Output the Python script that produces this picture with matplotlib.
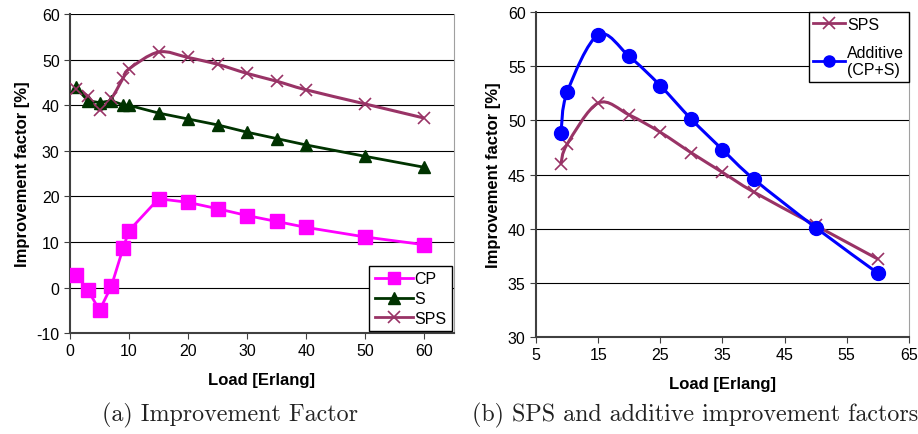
import numpy as np
import matplotlib
matplotlib.use('Agg')
import matplotlib.pyplot as plt
from matplotlib.path import Path
from matplotlib.patches import PathPatch
from matplotlib.lines import Line2D

plt.rcParams['font.family'] = ['Liberation Sans', 'DejaVu Sans']
plt.rcParams['axes.unicode_minus'] = False

# data, panel (a)
load_a = [1, 3, 5, 7, 9, 10, 15, 20, 25, 30, 35, 40, 50, 60]
cp = [2.8, -0.5, -5.0, 0.3, 8.7, 12.5, 19.5, 18.7, 17.3, 15.8, 14.5, 13.2, 11.1, 9.4]
s = [44.0, 41.0, 40.6, 41.0, 40.1, 40.0, 38.3, 37.0, 35.7, 34.1, 32.7, 31.3, 28.8, 26.4]
sps = [43.5, 42.0, 39.0, 41.5, 46.0, 48.0, 51.7, 50.5, 49.0, 47.0, 45.3, 43.4, 40.3, 37.2]

# data, panel (b)
load_b = [9, 10, 15, 20, 25, 30, 35, 40, 50, 60]
sps_b = [46.0, 47.8, 51.6, 50.5, 48.9, 47.0, 45.2, 43.4, 40.3, 37.2]
additive = [48.8, 52.6, 57.9, 55.9, 53.2, 50.1, 47.3, 44.6, 40.1, 35.9]

C_CP = '#ff00ff'
C_S = '#003300'
C_SPS = '#993366'
C_ADD = '#0000ff'


def smooth_line(ax, x, y, color, lw=2.2):
    # excel style smoothed line drawn as bezier path
    xl = ax.get_xlim(); yl = ax.get_ylim()
    sx = xl[1] - xl[0]; sy = yl[1] - yl[0]
    p = np.column_stack([(np.array(x) - xl[0]) / sx, (np.array(y) - yl[0]) / sy])
    n = len(p)
    verts = [p[0]]
    codes = [Path.MOVETO]
    for i in range(n - 1):
        p0 = p[i - 1] if i > 0 else p[i]
        p3 = p[i + 2] if i + 2 < n else p[i + 1]
        c1 = p[i] + (p[i + 1] - p0) / 6.0
        c2 = p[i + 1] - (p3 - p[i]) / 6.0
        verts += [c1, c2, p[i + 1]]
        codes += [Path.CURVE4] * 3
    v = np.array(verts)
    v[:, 0] = v[:, 0] * sx + xl[0]
    v[:, 1] = v[:, 1] * sy + yl[0]
    ax.add_patch(PathPatch(Path(v, codes), fill=False, edgecolor=color, lw=lw, zorder=3))


def style_axes(ax):
    ax.grid(axis='y', color='black', lw=0.8)
    ax.set_axisbelow(True)
    ax.spines['top'].set_visible(False)
    ax.spines['right'].set_color('#a0a0a0')
    ax.spines['left'].set_color('#404040')
    ax.spines['bottom'].set_color('#404040')
    ax.spines['left'].set_linewidth(1.5)
    ax.spines['bottom'].set_linewidth(1.5)
    ax.tick_params(direction='out', length=4, labelsize=11.5, color='#404040')
    ax.set_xlabel('Load [Erlang]', fontweight='bold', fontsize=12, labelpad=10)
    ax.set_ylabel('Improvement factor [%]', fontweight='bold', fontsize=12, labelpad=5)


fig = plt.figure(figsize=(9.18, 4.35), dpi=100)

# (a)
ax1 = fig.add_axes([0.0763, 0.232, 0.418, 0.733])
ax1.set_xlim(0, 65)
ax1.set_ylim(-10, 60)
ax1.set_xticks([0, 10, 20, 30, 40, 50, 60])
ax1.set_yticks(range(-10, 61, 10))
style_axes(ax1)
ax1.plot(load_a, cp, color=C_CP, lw=2, marker='s', ms=9.5, zorder=4)
ax1.plot(load_a, s, color=C_S, lw=2, marker='^', ms=9, zorder=4)
smooth_line(ax1, load_a, sps, C_SPS)
ax1.plot(load_a, sps, ls='none', color=C_SPS, marker='x', ms=9, mew=1.2, zorder=4)
h1 = [Line2D([], [], color=C_CP, lw=2, marker='s', ms=9),
      Line2D([], [], color=C_S, lw=2, marker='^', ms=8),
      Line2D([], [], color=C_SPS, lw=2, marker='x', ms=8, mew=1.2)]
leg1 = ax1.legend(h1, ['CP', 'S', 'SPS'], loc='lower right', fontsize=11.5,
                  fancybox=False, edgecolor='black', framealpha=1,
                  borderaxespad=0.1, handlelength=2.4, handletextpad=0.1,
                  labelspacing=0.3, borderpad=0.35)
leg1.get_frame().set_linewidth(1.0)
fig.text(0.25, 0.046, '(a) Improvement Factor', fontsize=17.3, family='cmr10',
         ha='center', va='center', color='#222222')

# (b)
ax2 = fig.add_axes([0.584, 0.223, 0.406, 0.747])
ax2.set_xlim(5, 65)
ax2.set_ylim(30, 60)
ax2.set_xticks(range(5, 66, 10))
ax2.set_yticks(range(30, 61, 5))
style_axes(ax2)
smooth_line(ax2, load_b, sps_b, C_SPS)
ax2.plot(load_b, sps_b, ls='none', color=C_SPS, marker='x', ms=9, mew=1.2, zorder=4)
smooth_line(ax2, load_b, additive, C_ADD)
ax2.plot(load_b, additive, ls='none', color=C_ADD, marker='o', ms=10, zorder=4)
h2 = [Line2D([], [], color=C_SPS, lw=2, marker='x', ms=8, mew=1.2),
      Line2D([], [], color=C_ADD, lw=2, marker='o', ms=8)]
leg2 = ax2.legend(h2, ['SPS', 'Additive\n(CP+S)'], loc='upper right', fontsize=11.5,
                  fancybox=False, edgecolor='black', framealpha=1,
                  borderaxespad=0.0, handlelength=2.0, handletextpad=0.1,
                  labelspacing=0.8, borderpad=0.3)
leg2.get_frame().set_linewidth(1.0)
fig.text(0.757, 0.046, '(b) SPS and additive improvement factors', fontsize=17.3,
         family='cmr10', ha='center', va='center', color='#222222')

fig.savefig('out.png', dpi=100)
